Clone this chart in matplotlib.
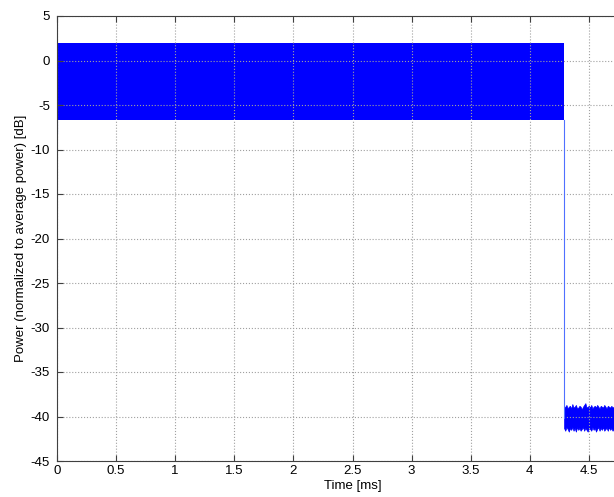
import matplotlib.pyplot as plt
import numpy as np

plt.rcParams['font.family'] = ['Liberation Sans', 'DejaVu Sans']
plt.rcParams['axes.unicode_minus'] = False

# envelope of the burst (time in ms, power in dB)
burst_t = [0.0, 4.29]
burst_hi = [2.0, 2.0]
burst_lo = [-6.7, -6.7]

# short dip at the very start and the drop at the end of the burst
start_t = [0.003, 0.003]
start_db = [-6.7, -8.1]
drop_t = [4.29, 4.29]
drop_db = [-6.7, -40.2]

# noise floor after the burst, envelope
noise_t = [4.29, 4.30, 4.31, 4.32, 4.33, 4.34, 4.35, 4.36, 4.37, 4.38,
           4.39, 4.40, 4.41, 4.42, 4.43, 4.44, 4.45, 4.46, 4.47, 4.48,
           4.49, 4.50, 4.51, 4.52, 4.53, 4.54, 4.55, 4.56, 4.57, 4.58,
           4.59, 4.60, 4.61, 4.62, 4.63, 4.64, 4.65, 4.66, 4.67, 4.68,
           4.69, 4.70, 4.71, 4.75]
noise_hi = [-39.0, -38.9, -38.7, -39.1, -38.9, -38.8, -39.1, -38.6, -39.0, -38.9,
            -38.7, -39.1, -39.0, -38.8, -38.9, -39.2, -38.9, -38.7, -38.5, -39.0,
            -38.9, -38.8, -39.0, -38.7, -39.1, -38.9, -38.8, -39.0, -38.7, -38.9,
            -39.1, -38.8, -38.9, -39.0, -38.7, -38.9, -39.1, -38.8, -38.9, -39.0,
            -38.8, -39.0, -38.9, -39.0]
noise_lo = [-41.3, -41.6, -41.2, -41.4, -41.7, -41.3, -41.5, -41.2, -41.6, -41.3,
            -41.7, -41.2, -41.5, -41.3, -41.6, -41.4, -41.2, -41.6, -41.3, -41.5,
            -41.7, -41.3, -41.4, -41.6, -41.2, -41.5, -41.3, -41.7, -41.4, -41.2,
            -41.6, -41.3, -41.5, -41.2, -41.6, -41.4, -41.3, -41.6, -41.2, -41.5,
            -41.3, -41.6, -41.4, -41.3]

fig = plt.figure(figsize=(6.14, 4.97), dpi=100)
ax = fig.add_axes([57 / 614, 36 / 497, 591 / 614, 445 / 497])

ax.fill_between(burst_t, burst_lo, burst_hi, color='#0000ff', lw=0)
ax.plot(start_t, start_db, color='#4060ff', lw=0.8)
ax.plot(drop_t, drop_db, color='#5070ff', lw=0.8)
ax.fill_between(noise_t, noise_lo, noise_hi, color='#0000ff', lw=0.5)

ax.set_xlim(0, 5)
ax.set_ylim(-45, 5)
ax.set_xticks(np.arange(0, 4.51, 0.5))
ax.set_xticklabels(['0', '0.5', '1', '1.5', '2', '2.5', '3', '3.5', '4', '4.5'])
ax.set_yticks(np.arange(-45, 5.1, 5))

ax.grid(True, linestyle=':', color='#a0a0a0', linewidth=0.8)
ax.tick_params(direction='in', top=True, right=True, length=4, width=0.8,
               labelsize=9.5, color='#404040')
ax.tick_params(axis='x', pad=3)
ax.tick_params(axis='y', pad=5)
for s in ax.spines.values():
    s.set_color('#404040')
    s.set_linewidth(0.8)

ax.set_xlabel('Time [ms]', fontsize=9.5, labelpad=2)
ax.set_ylabel('Power (normalized to average power) [dB]', fontsize=9.5, labelpad=3)

fig.savefig('out.png', dpi=100)
